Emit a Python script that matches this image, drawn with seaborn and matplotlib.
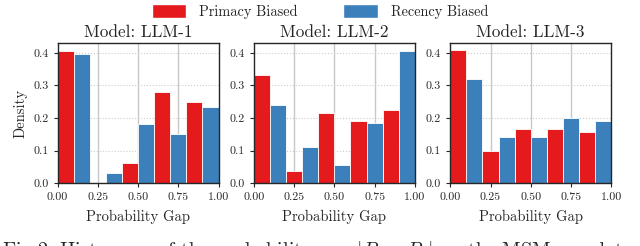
import numpy as np
import pandas as pd
import matplotlib
matplotlib.use("Agg")
import matplotlib.pyplot as plt
import seaborn as sns
from matplotlib.patches import Patch

models = ["LLM-1", "LLM-2", "LLM-3"]
bias_types = ["Primacy Biased", "Recency Biased"]
bin_edges = [0.0, 0.2, 0.4, 0.6, 0.8, 1.0]
xtick_vals = [0.0, 0.25, 0.5, 0.75, 1.0]

primacy = {
    "LLM-1": [0.405, 0.0, 0.062, 0.280, 0.249],
    "LLM-2": [0.331, 0.037, 0.214, 0.190, 0.226],
    "LLM-3": [0.408, 0.099, 0.166, 0.166, 0.158],
}
recency = {
    "LLM-1": [0.397, 0.030, 0.182, 0.152, 0.235],
    "LLM-2": [0.240, 0.110, 0.055, 0.185, 0.405],
    "LLM-3": [0.320, 0.143, 0.143, 0.200, 0.192],
}

colors = {"Primacy Biased": "#e41a1c", "Recency Biased": "#3b80bb"}

# long table: one row per bin per bias type, weighted by the read-off height
centers = [(a + b) / 2 for a, b in zip(bin_edges[:-1], bin_edges[1:])]
rows = []
for m in models:
    for bias, vals in (("Primacy Biased", primacy[m]), ("Recency Biased", recency[m])):
        for c, v in zip(centers, vals):
            rows.append({"Model": m, "Bias": bias, "gap": c, "w": v})
df = pd.DataFrame(rows)

sns.set_style("ticks")
plt.rcParams["font.family"] = ["cmr10", "DejaVu Serif"]
plt.rcParams["mathtext.fontset"] = "cm"
plt.rcParams["axes.formatter.use_mathtext"] = True

fig, axes = plt.subplots(1, 3, figsize=(6.4, 2.46), dpi=100)
fig.subplots_adjust(left=0.09, right=0.955, top=0.825, bottom=0.255, wspace=0.22)

for ax, m in zip(axes, models):
    sub = df[df["Model"] == m]
    sns.histplot(data=sub, x="gap", weights="w", hue="Bias", hue_order=bias_types,
                 bins=bin_edges, multiple="dodge", shrink=1.0, palette=colors,
                 alpha=1.0, edgecolor="white", linewidth=0.6, legend=False, ax=ax)
    ax.set_xlim(0, 1)
    ax.set_ylim(0, 0.43)
    ax.set_xticks(xtick_vals)
    ax.set_xticklabels(["0.00", "0.25", "0.50", "0.75", "1.00"])
    ax.set_yticks([0.0, 0.1, 0.2, 0.3, 0.4])
    ax.set_yticklabels(["0.0", "0.1", "0.2", "0.3", "0.4"])
    for x in [0.25, 0.5, 0.75]:
        ax.axvline(x, color="#c8c8c8", lw=1.0, zorder=0)
    for y in [0.1, 0.2, 0.3, 0.4]:
        ax.axhline(y, color="#cccccc", lw=0.8, ls=":", zorder=0)
    ax.set_axisbelow(True)
    ax.tick_params(labelsize=8.6, length=3, width=0.8)
    for s in ax.spines.values():
        s.set_linewidth(1.0)
    ax.set_title(f"Model: {m}", fontsize=12.4, pad=4)
    ax.set_xlabel("Probability Gap", fontsize=10.5, labelpad=6)
    ax.set_ylabel("")

axes[0].set_ylabel("Density", fontsize=10.5)

handles = [Patch(facecolor=colors[b], edgecolor="white") for b in bias_types]
fig.legend(handles, bias_types, loc="upper center", ncol=2, frameon=False,
           bbox_to_anchor=(0.5, 1.035), fontsize=10.3, handlelength=2.4,
           handleheight=1.1, handletextpad=0.9, columnspacing=3.2)

# caption of the source figure, cut off by the bottom edge as in the original
fig.text(0.003, 0.025, r"Fig 2. Histogram of the probability gap $|P_p - P_r|$ on the MSMarco dataset",
         fontsize=14.5, va="top", ha="left")

fig.savefig("out.png", dpi=100)
